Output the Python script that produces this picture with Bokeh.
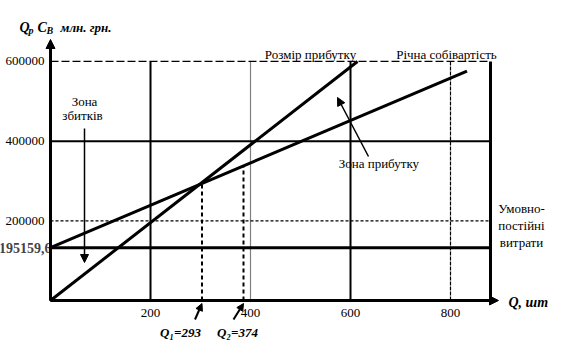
from bokeh.plotting import figure
from bokeh.models import Range1d, FixedTicker, LinearAxis, Label, Arrow, NormalHead
from bokeh.embed import file_html
from bokeh.resources import INLINE

# ---------------- data ----------------
x_ticks = [200, 400, 600, 800]
x_tick_labels = ["200", "400", "600", "800"]
y_ticks = [200000, 400000, 600000]
y_tick_labels = ["200000", "400000", "600000"]
fixed_cost_drawn = 132500          # height at which the fixed-cost line is drawn
fixed_cost_label = "195159,6"
revenue_q = [0, 614]               # "Розмір прибутку" line
revenue_v = [0, 600000]
cost_q = [0, 833]                  # "Річна собівартість" line
cost_v = [132500, 575500]
breakeven_q = [303, 386]           # drawn positions of Q1, Q2
breakeven_labels = ["Q\u2081=293", "Q\u2082=374"]
grid_right = 880
grid_top = 600000

FONT = "Liberation Serif"
W, H = 570, 354
UX = 2.0      # units of Q per pixel
UY = 2510.0   # units of value per pixel
X0, Y0 = 50, 300   # pixel position of origin


def X(px):
    return (px - X0) * UX


def Y(py):
    return (Y0 - py) * UY


p = figure(width=W, height=H, output_backend="svg", toolbar_location=None,
           x_range=Range1d(X(0), X(W)), y_range=Range1d(Y(H), Y(0)),
           min_border=0, min_border_left=0, min_border_right=0,
           min_border_top=0, min_border_bottom=0)
p.outline_line_color = None
p.grid.visible = False
p.background_fill_color = "white"

# ---- axes placed at the origin ----
xa = p.xaxis[0]
xa.fixed_location = 0
xa.ticker = FixedTicker(ticks=x_ticks)
xa.major_label_overrides = dict(zip(x_ticks, x_tick_labels))
xa.bounds = (0, X(490))
ya = p.yaxis[0]
ya.fixed_location = 0
ya.ticker = FixedTicker(ticks=y_ticks)
ya.major_label_overrides = dict(zip(y_ticks, y_tick_labels))
ya.bounds = (0, Y(48))
for ax in (xa, ya):
    ax.axis_line_width = 3
    ax.axis_line_color = "black"
    ax.major_tick_line_color = None
    ax.minor_tick_line_color = None
    ax.major_tick_in = 0
    ax.major_tick_out = 0
    ax.minor_tick_in = 0
    ax.minor_tick_out = 0
    ax.major_label_text_font = FONT
    ax.major_label_text_font_size = "13px"
    ax.major_label_text_color = "black"
xa.major_label_standoff = 8
ya.major_label_standoff = 6

fc_axis = LinearAxis(fixed_location=0, ticker=FixedTicker(ticks=[fixed_cost_drawn]),
                     major_label_overrides={fixed_cost_drawn: fixed_cost_label},
                     axis_line_color=None, major_tick_line_color=None,
                     minor_tick_line_color=None, major_tick_in=0, major_tick_out=0,
                     minor_tick_in=0, minor_tick_out=0,
                     major_label_text_font=FONT, major_label_text_font_size="14px",
                     major_label_text_font_style="bold", major_label_standoff=-1)
p.add_layout(fc_axis, "left")

# ---- grid lines (limited box) ----
v_styles = [("solid", 2), ("1 1", 1.2), ("solid", 2), ("4 1", 1.2)]
for q, (dash, lw) in zip(x_ticks, v_styles):
    p.segment(x0=[q], y0=[0], x1=[q], y1=[grid_top], line_color="black",
              line_width=lw, line_dash=dash)
p.segment(x0=[grid_right], y0=[0], x1=[grid_right], y1=[grid_top],
          line_color="black", line_width=3)
h_styles = [("3 2", 1.2), ("solid", 2), ("8 3", 1.3)]
for v, (dash, lw) in zip(y_ticks, h_styles):
    p.segment(x0=[0], y0=[v], x1=[grid_right], y1=[v], line_color="black",
              line_width=lw, line_dash=dash)
p.segment(x0=[0], y0=[fixed_cost_drawn], x1=[grid_right], y1=[fixed_cost_drawn],
          line_color="black", line_width=3)

# ---- main lines ----
p.line(revenue_q, revenue_v, line_color="black", line_width=3)
p.line(cost_q, cost_v, line_color="black", line_width=3)

# ---- break-even dashed verticals ----
slope = (cost_v[1] - cost_v[0]) / (cost_q[1] - cost_q[0])
for q in breakeven_q:
    p.segment(x0=[q], y0=[0], x1=[q], y1=[cost_v[0] + slope * q],
              line_color="black", line_width=2, line_dash="4 3")

# ---- axis arrowheads ----
p.add_layout(Arrow(end=NormalHead(size=9, fill_color="black", line_color="black"),
                   x_start=0, y_start=0, x_end=0, y_end=Y(39), line_width=3))
p.add_layout(Arrow(end=NormalHead(size=9, fill_color="black", line_color="black"),
                   x_start=0, y_start=0, x_end=X(498), y_end=0, line_width=3))

# ---- annotation arrows ----
def arrow(xs, ys, xe, ye, lw=1.5, size=8):
    p.add_layout(Arrow(end=NormalHead(size=size, fill_color="black", line_color="black"),
                       x_start=xs, y_start=ys, x_end=xe, y_end=ye,
                       line_width=lw, line_color="black"))

arrow(X(84), Y(128), X(84), Y(262))
arrow(X(368), Y(156), X(337), Y(97))
arrow(breakeven_q[0] - 7 * UX, Y(319), breakeven_q[0], Y(303), lw=2, size=7)
arrow(breakeven_q[1] - 10 * UX, Y(319), breakeven_q[1], Y(303), lw=2, size=7)


def label(px, py, text, size="13px", style="normal", align="center",
          baseline="middle"):
    p.add_layout(Label(x=X(px), y=Y(py), text=text, text_font=FONT,
                       text_font_size=size, text_font_style=style,
                       text_align=align, text_baseline=baseline,
                       text_color="black"))


# y-axis title
label(19, 27, "Q", "14px", "bold italic", "left", "alphabetic")
label(28, 30, "р", "10px", "bold italic", "left", "alphabetic")
label(37, 27, "C", "14px", "bold italic", "left", "alphabetic")
label(46, 30, "В", "10px", "bold italic", "left", "alphabetic")
label(60, 27, "млн. грн.", "13px", "bold italic", "left", "alphabetic")
# x-axis title
label(508, 302, "Q, шт", "14px", "bold italic", "left")

label(84, 101, "Зона")
label(82, 115, "збитків")
label(380, 163, "Зона  прибутку")
label(310, 54, "Розмір прибутку")
label(446, 54, "Річна собівартість")
label(521, 208, "Умовно-")
label(521, 225, "постійні")
label(521, 242, "витрати")

label(180, 332, breakeven_labels[0], "13px", "bold italic")
label(237, 332, breakeven_labels[1], "13px", "bold italic")

open("out.html", "w").write(file_html(p, INLINE))
